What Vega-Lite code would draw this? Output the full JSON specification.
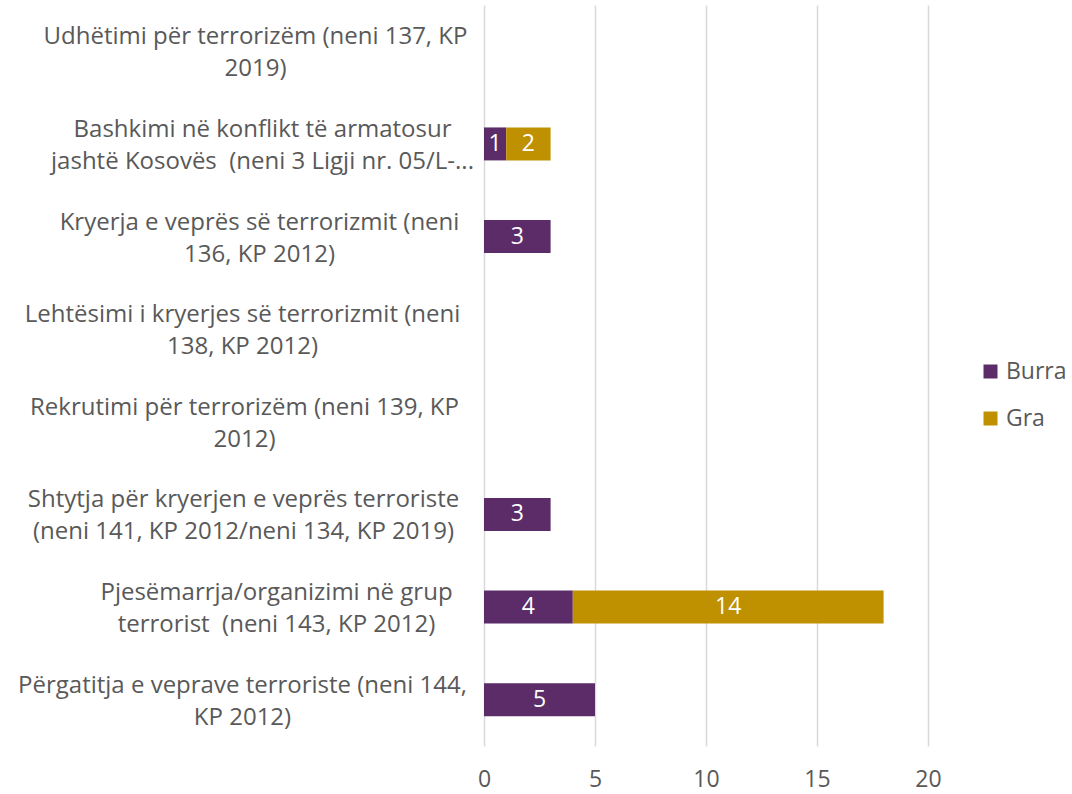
{
  "$schema": "https://vega.github.io/schema/vega-lite/v6.json",
  "autosize": {"type": "none"},
  "padding": {"left": 484, "top": 5, "right": 144, "bottom": 48},
  "width": 444,
  "height": 741,
  "background": "white",
  "config": {
    "font": "Open Sans",
    "view": {"stroke": null}
  },
  "data": {
    "values": [
      {"kategoria": "Bashkimi në konflikt të armatosur|jashtë Kosovës\u00a0 (neni 3 Ligji nr. 05/L-...", "gjinia": "Burra", "numri": 1},
      {"kategoria": "Bashkimi në konflikt të armatosur|jashtë Kosovës\u00a0 (neni 3 Ligji nr. 05/L-...", "gjinia": "Gra", "numri": 2},
      {"kategoria": "Kryerja e veprës së terrorizmit (neni|136, KP 2012)", "gjinia": "Burra", "numri": 3},
      {"kategoria": "Shtytja për kryerjen e veprës terroriste|(neni 141, KP 2012/neni 134, KP 2019)", "gjinia": "Burra", "numri": 3},
      {"kategoria": "Pjesëmarrja/organizimi në grup|terrorist\u00a0 (neni 143, KP 2012)", "gjinia": "Burra", "numri": 4},
      {"kategoria": "Pjesëmarrja/organizimi në grup|terrorist\u00a0 (neni 143, KP 2012)", "gjinia": "Gra", "numri": 14},
      {"kategoria": "Përgatitja e veprave terroriste (neni 144,|KP 2012)", "gjinia": "Burra", "numri": 5}
    ]
  },
  "encoding": {
    "y": {
      "field": "kategoria",
      "type": "nominal",
      "title": null,
      "scale": {
        "domain": [
          "Udhëtimi për terrorizëm (neni 137, KP|2019)",
          "Bashkimi në konflikt të armatosur|jashtë Kosovës\u00a0 (neni 3 Ligji nr. 05/L-...",
          "Kryerja e veprës së terrorizmit (neni|136, KP 2012)",
          "Lehtësimi i kryerjes së terrorizmit (neni|138, KP 2012)",
          "Rekrutimi për terrorizëm (neni 139, KP|2012)",
          "Shtytja për kryerjen e veprës terroriste|(neni 141, KP 2012/neni 134, KP 2019)",
          "Pjesëmarrja/organizimi në grup|terrorist\u00a0 (neni 143, KP 2012)",
          "Përgatitja e veprave terroriste (neni 144,|KP 2012)"
        ],
        "paddingInner": 0.644,
        "paddingOuter": 0.322
      },
      "axis": {
        "labelExpr": "split(datum.label, '|')",
        "labelAlign": "center",
        "labelBaseline": "middle",
        "labelPadding": {
          "condition": [
            {"test": "indexof(datum.value, 'Udhëtimi') == 0", "value": 229},
            {"test": "indexof(datum.value, 'Bashkimi') == 0", "value": 222},
            {"test": "indexof(datum.value, 'Kryerja') == 0", "value": 225},
            {"test": "indexof(datum.value, 'Rekrutimi') == 0", "value": 240},
            {"test": "indexof(datum.value, 'Shtytja') == 0", "value": 241},
            {"test": "indexof(datum.value, 'Pjesëmarrja') == 0", "value": 208}
          ],
          "value": 242
        },
        "labelOffset": -14,
        "labelFontSize": 24,
        "labelLineHeight": 32,
        "labelColor": "#595959",
        "labelLimit": 0,
        "ticks": false,
        "domain": false,
        "grid": false
      }
    }
  },
  "layer": [
    {
      "mark": {"type": "bar"},
      "encoding": {
        "x": {
          "field": "numri",
          "type": "quantitative",
          "stack": "zero",
          "title": null,
          "scale": {"domain": [0, 20]},
          "axis": {
            "values": [0, 5, 10, 15, 20],
            "labelFontSize": 23,
            "labelColor": "#595959",
            "labelPadding": 22,
            "labelFlush": false,
            "ticks": false,
            "domain": false,
            "grid": true,
            "gridColor": "#d9d9d9",
            "gridWidth": 1.5
          }
        },
        "color": {
          "field": "gjinia",
          "type": "nominal",
          "title": null,
          "scale": {"domain": ["Burra", "Gra"], "range": ["#5B2C67", "#BF9000"]},
          "legend": {
            "orient": "none",
            "legendX": 495,
            "legendY": 355,
            "symbolType": "square",
            "symbolSize": 196,
            "symbolStrokeWidth": 0,
            "labelFontSize": 23,
            "labelColor": "#595959",
            "rowPadding": 23,
            "labelOffset": 4
          }
        }
      }
    },
    {
      "transform": [
        {"stack": "numri", "groupby": ["kategoria"], "sort": [{"field": "gjinia"}], "as": ["fillimi", "fundi"]},
        {"fold": ["fillimi", "fundi"], "as": ["skaji", "pozita"]},
        {"aggregate": [{"op": "mean", "field": "pozita", "as": "mesi"}, {"op": "max", "field": "numri", "as": "vlera"}], "groupby": ["kategoria", "gjinia"]}
      ],
      "mark": {"type": "text", "color": "white", "fontSize": 23, "baseline": "middle", "align": "center"},
      "encoding": {
        "x": {"field": "mesi", "type": "quantitative"},
        "text": {"field": "vlera", "type": "quantitative"}
      }
    }
  ]
}
